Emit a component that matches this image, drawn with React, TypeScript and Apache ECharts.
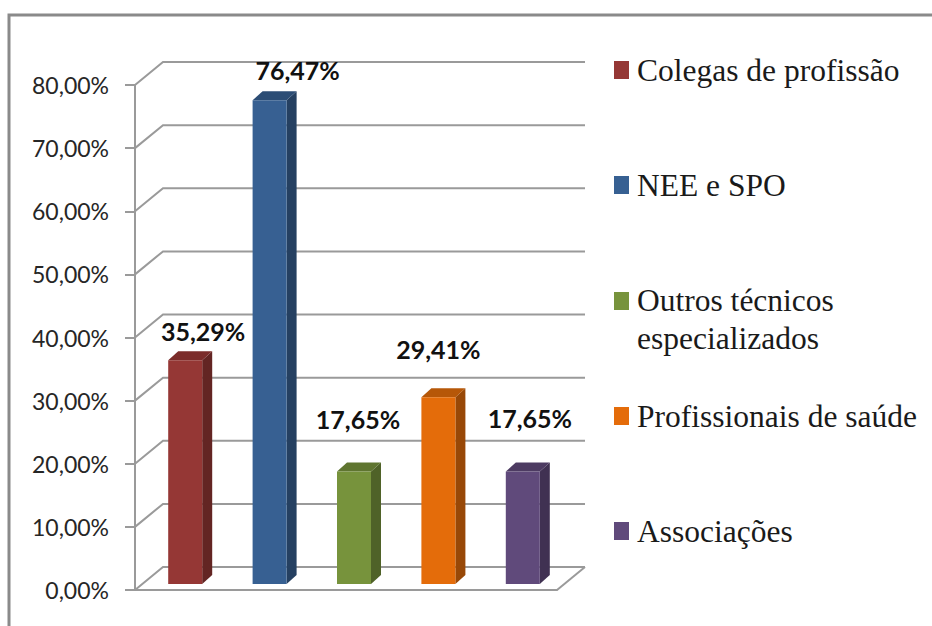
import React, { useEffect, useRef } from "react";
import * as echarts from "echarts";

const categories = ["Colegas de profissão", "NEE e SPO", "Outros técnicos\nespecializados", "Profissionais de saúde", "Associações"];
const values = [35.29, 76.47, 17.65, 29.41, 17.65];
const tickValues = [0, 10, 20, 30, 40, 50, 60, 70, 80];
const frontColors = ["#953735", "#376092", "#77933C", "#E46C0A", "#604A7B"];
const sideColors = ["#632523", "#254061", "#4F6228", "#984807", "#403152"];
const topColors = ["#7B2C2A", "#2C4D75", "#5F7530", "#B65708", "#4D3B62"];
const labelNudges = [[18, -29], [28, -30], [4, -53], [0, -48], [7, -54]];
const legendTops = [51, 166, 281, 397, 512];

const fmt = (v: number) => v.toFixed(2).replace(".", ",") + "%";
const GRID = "#9A9A9A";
const DEPTH_X = 28, DEPTH_Y = -23;

function barItem(i: number) {
  return (params: any, api: any) => {
    const v = api.value(1);
    const base = api.coord([i, 0]);
    const topPt = api.coord([i, v]);
    const w = 34, dx = 10, dy = -9;
    const x = base[0] + 8 - w / 2;
    const bottom = base[1] - 6;
    const top = topPt[1] - 7;
    return {
      type: "group",
      children: [
        { type: "polygon", shape: { points: [[x + w, top], [x + w + dx, top + dy], [x + w + dx, bottom + dy], [x + w, bottom]] }, style: { fill: sideColors[i] } },
        { type: "polygon", shape: { points: [[x, top], [x + dx, top + dy], [x + w + dx, top + dy], [x + w, top]] }, style: { fill: topColors[i] } },
        { type: "rect", shape: { x, y: top, width: w, height: bottom - top }, style: { fill: frontColors[i] } },
        {
          type: "text",
          style: {
            x: x + w / 2 + labelNudges[i][0],
            y: top + labelNudges[i][1],
            text: fmt(v),
            fill: "#111111",
            font: "bold 25px Lato",
            align: "center",
            verticalAlign: "middle",
          },
        },
      ],
    };
  };
}

function wallItem(params: any, api: any) {
  const v = api.value(0);
  const p = api.coord([0, v]);
  const cs = params.coordSys;
  const x0 = cs.x, x1 = cs.x + cs.width, y = p[1];
  const lineStyle = { stroke: GRID, lineWidth: 2, fill: "none" };
  const children: any[] = [
    { type: "polyline", shape: { points: [[x0, y], [x0 + DEPTH_X, y + DEPTH_Y], [x1 + DEPTH_X, y + DEPTH_Y]] }, style: lineStyle },
  ];
  if (v === 0) {
    children.push({ type: "line", shape: { x1, y1: y, x2: x1 + DEPTH_X, y2: y + DEPTH_Y }, style: lineStyle });
  }
  return { type: "group", children };
}

export default function App() {
  const ref = useRef<HTMLDivElement>(null);
  useEffect(() => {
    document.body.style.margin = "0";
    const chart = echarts.init(ref.current!, null, { renderer: "svg" });
    const legendText = { fontFamily: "Liberation Serif", fontSize: 31.5, color: "#1a1a1a", lineHeight: 38, padding: [0, 0, 0, 3] };
    chart.setOption({
      animation: false,
      backgroundColor: "#ffffff",
      grid: { left: 135, top: 85, width: 422, height: 505 },
      xAxis: {
        type: "category",
        data: categories,
        axisTick: { show: false },
        axisLabel: { show: false },
        axisLine: { lineStyle: { color: GRID, width: 2 } },
        splitLine: { show: false },
      },
      yAxis: {
        type: "value",
        min: 0,
        max: 80,
        interval: 10,
        axisLine: { show: true, lineStyle: { color: GRID, width: 2 } },
        axisTick: { show: true, length: 10, lineStyle: { color: GRID, width: 2 } },
        splitLine: { show: false },
        axisLabel: { formatter: (v: number) => fmt(v), fontFamily: "Lato", fontSize: 23, color: "#262626", margin: 26, padding: [4, 0, 0, 0] },
      },
      legend: categories.map((c, i) => ({
        data: [c],
        left: 614,
        top: legendTops[i],
        orient: "vertical",
        padding: 0,
        selectedMode: false,
        itemWidth: 15,
        itemHeight: i === 2 ? 54 : 18,
        icon: i === 2 ? "path://M0 0H15V18H0Z M0 54L0 54" : "rect",
        textStyle: legendText,
      })),
      graphic: [
        {
          type: "polyline",
          silent: true,
          shape: { points: [[9, 640], [9, 15], [940, 15]] },
          style: { stroke: "#8A8A8A", lineWidth: 3, fill: "none" },
        },
      ],
      series: [
        {
          name: "grade",
          type: "custom",
          z: 1,
          data: tickValues.map((t) => [t]),
          encode: { y: 0 },
          renderItem: wallItem,
          silent: true,
        },
        ...categories.map((c, i) => ({
          name: c,
          type: "custom",
          z: 3,
          itemStyle: { color: frontColors[i] },
          data: [[i, values[i]]],
          encode: { x: 0, y: 1 },
          renderItem: barItem(i),
        })),
      ],
    });
    return () => chart.dispose();
  }, []);
  return <div ref={ref} style={{ width: 932, height: 626 }} />;
}
